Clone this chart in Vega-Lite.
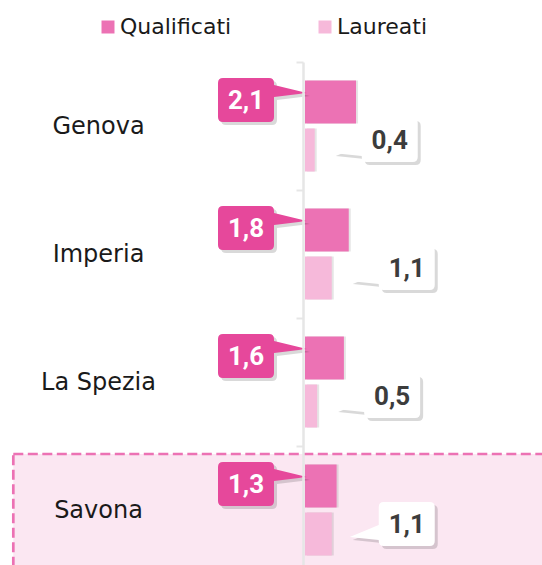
{
  "$schema": "https://vega.github.io/schema/vega-lite/v6.json",
  "autosize": "none",
  "width": 237,
  "height": 503,
  "padding": {"left": 305, "top": 62, "right": 0, "bottom": 0},
  "background": "white",
  "config": {
    "view": {"stroke": null},
    "locale": {"number": {"decimal": ",", "thousands": ".", "grouping": [3], "currency": ["€", ""]}}
  },
  "data": {
    "values": [
      {"region": "Genova", "series": "Qualificati", "value": 2.1},
      {"region": "Genova", "series": "Laureati", "value": 0.4},
      {"region": "Imperia", "series": "Qualificati", "value": 1.8},
      {"region": "Imperia", "series": "Laureati", "value": 1.1},
      {"region": "La Spezia", "series": "Qualificati", "value": 1.6},
      {"region": "La Spezia", "series": "Laureati", "value": 0.5},
      {"region": "Savona", "series": "Qualificati", "value": 1.3},
      {"region": "Savona", "series": "Laureati", "value": 1.1}
    ]
  },
  "encoding": {
    "y": {
      "field": "region",
      "type": "nominal",
      "sort": null,
      "scale": {"domain": ["Genova", "Imperia", "La Spezia", "Savona"], "range": [0, 512], "paddingInner": 0, "paddingOuter": 0},
      "axis": {
        "title": null,
        "offset": 2,
        "zindex": 1,
        "domainColor": "#e6e6e6",
        "domainWidth": 2.5,
        "tickColor": "#e6e6e6",
        "tickWidth": 2,
        "tickSize": 7,
        "tickBand": "extent",
        "labelPadding": 198,
        "labelAlign": "center",
        "labelBaseline": "middle",
        "labelFont": "DejaVu Sans",
        "labelFontSize": 24,
        "labelColor": "#1a1a1a"
      }
    }
  },
  "layer": [
    {
      "transform": [{"filter": "datum.region === 'Savona' && datum.series === 'Qualificati'"}],
      "mark": {"type": "rect", "fill": "#FBE7F2", "stroke": "#EC72B4", "strokeWidth": 2.7, "strokeDash": [10, 4.5], "yOffset": 8},
      "encoding": {
        "x": {"datum": -12, "type": "quantitative", "scale": {"domain": [0, 9.75], "nice": false, "zero": false}, "axis": null},
        "x2": {"datum": 11}
      }
    },
    {
      "mark": {"type": "bar", "fill": "#000", "opacity": 0.1, "xOffset": 2, "yOffset": 2},
      "encoding": {
        "x": {"field": "value", "type": "quantitative"},
        "yOffset": {"field": "series", "type": "nominal", "sort": ["Qualificati", "Laureati"], "scale": {"paddingInner": 0.104, "paddingOuter": 0.385}}
      }
    },
    {
      "mark": {"type": "bar"},
      "encoding": {
        "x": {"field": "value", "type": "quantitative"},
        "yOffset": {"field": "series", "type": "nominal", "sort": ["Qualificati", "Laureati"], "scale": {"paddingInner": 0.104, "paddingOuter": 0.385}},
        "color": {
          "field": "series",
          "type": "nominal",
          "sort": ["Qualificati", "Laureati"],
          "scale": {"domain": ["Qualificati", "Laureati"], "range": ["#EC72B4", "#F6B9DA"]},
          "legend": {
            "orient": "none",
            "legendX": -208,
            "legendY": -46,
            "direction": "horizontal",
            "title": null,
            "padding": 0,
            "symbolType": "square",
            "symbolSize": 169,
            "symbolStrokeWidth": 0,
            "symbolOpacity": 1,
            "labelFont": "DejaVu Sans",
            "labelFontSize": 22,
            "labelColor": "#1a1a1a",
            "labelOffset": 1,
            "columnPadding": 82
          }
        }
      }
    },
    {
      "transform": [{"filter": "datum.series === 'Qualificati'"}],
      "mark": {"type": "point", "filled": true, "opacity": 0.15, "fill": "#000", "strokeWidth": 0, "size": 4, "xOffset": 3, "yOffset": 3,
        "shape": "M -82 -48 L -36 -48 Q -31 -48 -31 -43 L -31 -41 L 2 -33 L -31 -29 L -31 -9 Q -31 -4 -36 -4 L -82 -4 Q -87 -4 -87 -9 L -87 -43 Q -87 -48 -82 -48 Z"},
      "encoding": {"x": {"datum": 0, "type": "quantitative"}}
    },
    {
      "transform": [{"filter": "datum.series === 'Qualificati'"}],
      "mark": {"type": "point", "filled": true, "opacity": 1, "fill": "#E6489B", "strokeWidth": 0, "size": 4,
        "shape": "M -82 -48 L -36 -48 Q -31 -48 -31 -43 L -31 -41 L 2 -33 L -31 -29 L -31 -9 Q -31 -4 -36 -4 L -82 -4 Q -87 -4 -87 -9 L -87 -43 Q -87 -48 -82 -48 Z"},
      "encoding": {"x": {"datum": 0, "type": "quantitative"}}
    },
    {
      "transform": [{"filter": "datum.series === 'Qualificati'"}],
      "mark": {"type": "text", "font": "Roboto", "fontWeight": "bold", "fontSize": 26, "color": "#ffffff", "align": "center", "baseline": "middle", "xOffset": -59, "yOffset": -25},
      "encoding": {
        "x": {"datum": 0, "type": "quantitative"},
        "text": {"field": "value", "type": "quantitative", "format": ".1f"}
      }
    },
    {
      "transform": [{"filter": "datum.series === 'Laureati'"}],
      "mark": {"type": "point", "filled": true, "opacity": 0.15, "fill": "#000", "strokeWidth": 0, "size": 4, "xOffset": 3, "yOffset": 3,
        "shape": "M 52 -8 L 98 -8 Q 103 -8 103 -3 L 103 31 Q 103 36 98 36 L 52 36 Q 47 36 47 31 L 47 30 L 18 27 L 47 15 L 47 -3 Q 47 -8 52 -8 Z"},
      "encoding": {"x": {"field": "value", "type": "quantitative"}}
    },
    {
      "transform": [{"filter": "datum.series === 'Laureati'"}],
      "mark": {"type": "point", "filled": true, "opacity": 1, "fill": "#ffffff", "strokeWidth": 0, "size": 4,
        "shape": "M 52 -8 L 98 -8 Q 103 -8 103 -3 L 103 31 Q 103 36 98 36 L 52 36 Q 47 36 47 31 L 47 30 L 18 27 L 47 15 L 47 -3 Q 47 -8 52 -8 Z"},
      "encoding": {"x": {"field": "value", "type": "quantitative"}}
    },
    {
      "transform": [{"filter": "datum.series === 'Laureati'"}],
      "mark": {"type": "text", "font": "Roboto", "fontWeight": "bold", "fontSize": 26, "color": "#3c3c3c", "align": "center", "baseline": "middle", "xOffset": 75, "yOffset": 15},
      "encoding": {
        "x": {"field": "value", "type": "quantitative"},
        "text": {"field": "value", "type": "quantitative", "format": ".1f"}
      }
    }
  ]
}
